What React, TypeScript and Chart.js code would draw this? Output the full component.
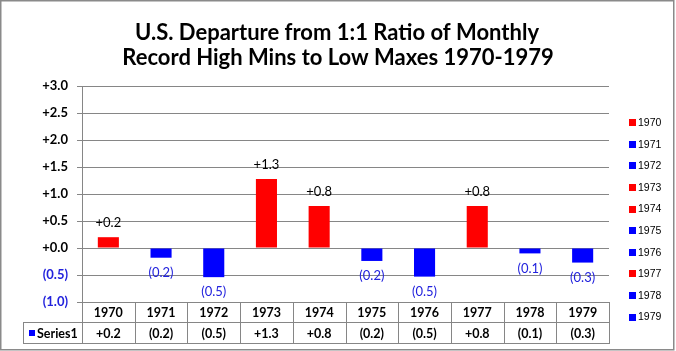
import React, { useEffect, useRef } from "react";
import { Chart, registerables } from "chart.js";

Chart.register(...registerables);

const years = ["1970", "1971", "1972", "1973", "1974", "1975", "1976", "1977", "1978", "1979"];
const values = [0.2, -0.18, -0.54, 1.28, 0.78, -0.24, -0.53, 0.78, -0.1, -0.27];
const tableLabels = ["+0.2", "(0.2)", "(0.5)", "+1.3", "+0.8", "(0.2)", "(0.5)", "+0.8", "(0.1)", "(0.3)"];
const titleLines = ["U.S. Departure from 1:1 Ratio of Monthly", "Record High Mins to Low Maxes 1970-1979"];
const seriesName = "Series1";

const RED = "#FF0000";
const BLUE = "#0000FF";
const LBLUE = "#2222DD";
const GRID = "#868686";
const FONT = "Lato";

function fmt(v: number): string {
  const s = Math.abs(v).toFixed(1);
  return v < -1e-9 ? "(" + s + ")" : "+" + s;
}

const extras = {
  id: "extras",
  afterDraw(chart: any) {
    const ctx = chart.ctx as CanvasRenderingContext2D;
    const area = chart.chartArea;
    const xs = chart.scales.x;
    ctx.save();
    // outer border
    ctx.strokeStyle = "#8a8a8a";
    ctx.lineWidth = 1.5;
    ctx.strokeRect(0.75, 0.75, 673, 349);

    // title
    ctx.fillStyle = "#000";
    ctx.font = `bold 22px ${FONT}`;
    ctx.textAlign = "center";
    ctx.textBaseline = "middle";
    ctx.fillText(titleLines[0], 337, 33);
    ctx.fillText(titleLines[1], 338, 58);

    // data labels
    const meta = chart.getDatasetMeta(0);
    ctx.font = `13px ${FONT}`;
    meta.data.forEach((bar: any, i: number) => {
      const v = values[i];
      if (v >= 0) {
        ctx.fillStyle = "#000";
        ctx.fillText(tableLabels[i], bar.x, bar.y - 14);
      } else {
        ctx.fillStyle = LBLUE;
        ctx.fillText(tableLabels[i], bar.x, bar.y + 15);
      }
    });

    // legend
    ctx.textAlign = "left";
    ctx.font = "10.5px 'Liberation Sans'";
    years.forEach((y, i) => {
      const cy = 122.7 + i * 21.6;
      ctx.fillStyle = values[i] >= 0 ? RED : BLUE;
      ctx.fillRect(629, Math.round(cy - 3.5), 7, 7);
      ctx.fillStyle = "#000";
      ctx.fillText(y, 638, cy + 0.5);
    });

    // data table
    const top = area.bottom;
    const mid = top + 20;
    const bot = top + 41;
    const left = 23;
    const n = years.length;
    const step = (area.right - area.left) / n;
    ctx.strokeStyle = GRID;
    ctx.lineWidth = 1;
    ctx.beginPath();
    ctx.moveTo(left, Math.round(mid) + 0.5);
    ctx.lineTo(area.right, Math.round(mid) + 0.5);
    ctx.moveTo(left, Math.round(bot) + 0.5);
    ctx.lineTo(area.right, Math.round(bot) + 0.5);
    ctx.moveTo(left + 0.5, Math.round(mid));
    ctx.lineTo(left + 0.5, Math.round(bot) + 1);
    for (let k = 0; k <= n; k++) {
      const x = Math.round(area.left + k * step) + 0.5;
      ctx.moveTo(x, top);
      ctx.lineTo(x, Math.round(bot) + 1);
    }
    ctx.stroke();

    ctx.textAlign = "center";
    ctx.font = `bold 12.5px ${FONT}`;
    ctx.fillStyle = "#000";
    years.forEach((y, i) => {
      const cx = xs.getPixelForValue(i);
      ctx.fillText(y, cx, (top + mid) / 2 + 1);
      ctx.fillText(tableLabels[i], cx, (mid + bot) / 2 + 1);
    });
    ctx.fillStyle = BLUE;
    ctx.fillRect(29, Math.round((mid + bot) / 2) - 3, 6, 6);
    ctx.fillStyle = "#000";
    ctx.textAlign = "left";
    ctx.fillText(seriesName, 37, (mid + bot) / 2 + 1);
    ctx.restore();
  },
};

export default function App() {
  const ref = useRef<HTMLCanvasElement | null>(null);
  useEffect(() => {
    document.body.style.margin = "0";
    if (!ref.current) return;
    const chart = new Chart(ref.current, {
      type: "bar",
      data: {
        labels: years,
        datasets: [
          {
            label: seriesName,
            data: values,
            backgroundColor: values.map((v) => (v >= 0 ? RED : BLUE)),
            categoryPercentage: 1,
            barPercentage: 0.4,
          },
        ],
      },
      options: {
        animation: false,
        responsive: false,
        devicePixelRatio: 1,
        layout: { padding: { top: 86, bottom: 49, left: 0, right: 67 } },
        plugins: {
          legend: { display: false },
          title: { display: false },
          tooltip: { enabled: false },
        },
        scales: {
          x: { display: false },
          y: {
            min: -1,
            max: 3,
            ticks: {
              stepSize: 0.5,
              padding: 9,
              callback: (v: any) => fmt(Number(v)),
              color: (c: any) => (c.tick && c.tick.value < 0 ? LBLUE : "#000"),
              font: { family: FONT, size: 13, weight: "bold" },
            },
            grid: { color: GRID, lineWidth: 1, tickLength: 5, drawTicks: true },
            border: { color: GRID, width: 1 },
            afterFit: (s: any) => {
              s.width = 82;
            },
          },
        },
      },
      plugins: [extras],
    });
    return () => chart.destroy();
  }, []);
  return (
    <div style={{ width: 676, height: 351 }}>
      <canvas ref={ref} width={676} height={351} style={{ display: "block" }} />
    </div>
  );
}
